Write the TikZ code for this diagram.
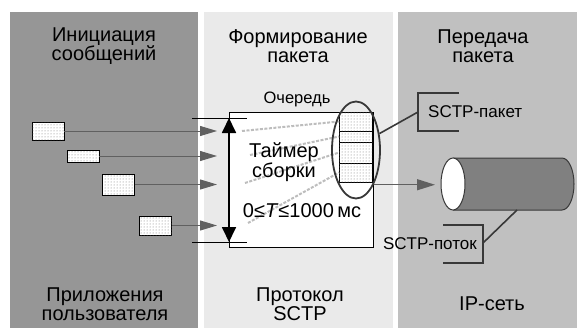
\documentclass[tikz,border=0pt]{standalone}
\usepackage{fontspec}
\setmainfont{Liberation Sans}
\usepackage{tikz}
\usepackage{xcolor}
\usetikzlibrary{
    positioning,
    calc,
    shapes.geometric,
    arrows.meta,
    patterns
}
\definecolor{PainelApp}{HTML}{969696}
\definecolor{PainelSctp}{HTML}{EAEAEA}
\definecolor{PainelRede}{HTML}{C0C0C0}
\definecolor{SetaCinza}{HTML}{606060}
\definecolor{FilaCinza}{HTML}{BDBDBD}
\definecolor{TracoEscuro}{HTML}{383838}
\definecolor{TuboCinza}{HTML}{808080}

\begin{document}
\begin{tikzpicture}[
        x=1pt, y=-1pt,
        heading/.style={
            font=\fontsize{20}{19.5}\selectfont,
            align=center
        },
        tagtext/.style={
            font=\fontsize{16.5}{18}\selectfont,
            inner sep=0pt
        },
        msgbox/.style={
            draw,
            line width=0.8pt,
            fill=white,
            postaction={pattern=dots, pattern color=black!55},
            minimum width=32pt,
            inner sep=0pt,
            outer sep=0pt
        },
        cellbox/.style={
            msgbox,
            line width=0.6pt,
            minimum width=33pt
        },
        msgarrow/.style={
            draw=SetaCinza,
            line width=1pt,
            -{Triangle[length=17pt, width=10pt]}
        },
        queueline/.style={
            draw=FilaCinza,
            line width=2pt,
            dash pattern=on 3pt off 1.5pt
        },
        darkline/.style={
            draw=TracoEscuro,
            line width=1.6pt
        }
    ]

    \useasboundingbox (0,0) rectangle (577,329);

    % tres faixas de fundo
    \fill[PainelApp] (10,12) rectangle (198,328);
    \fill[PainelSctp] (204,12) rectangle (393,328);
    \fill[PainelRede] (398,12) rectangle (577,328);

    \node[heading] (titleApp) at (104,46) {Инициация\\сообщений};
    \node[heading] (titleSctp) at (298,46) {Формирование\\пакета};
    \node[heading] (titleNet) at (483,46) {Передача\\пакета};

    \node[heading] (footApp) at (105,304) {Приложения\\пользователя};
    \node[heading] (footSctp) at (300,304) {Протокол\\SCTP};
    \node[heading] (footNet) at (492,304) {IP-сеть};

    % bloco do protocolo
    \node[
        draw,
        line width=0.8pt,
        fill=white,
        minimum width=144pt,
        minimum height=135pt,
        anchor=north west,
        inner sep=0pt
    ] (sctpbox) at (229,112) {};

    \coordinate (timerTop) at (229,118);
    \coordinate (timerBot) at (229,242);
    \draw[line width=0.8pt] (192,118) -- (247,118);
    \draw[line width=0.8pt] (192,242) -- (247,242);
    \draw[
        line width=1.8pt,
        {Triangle[length=15pt, width=14pt]}-{Triangle[length=15pt, width=14pt]}
    ] (timerTop) -- (timerBot);

    % mensagens
    \node[msgbox, minimum height=18pt] (msgA) at (48,131) {};
    \node[msgbox, minimum height=12pt] (msgB) at (83,156) {};
    \node[msgbox, minimum height=21pt] (msgC) at (118.5,184.5) {};
    \node[msgbox, minimum height=19pt] (msgD) at (155.5,225.5) {};

    \coordinate (arrowEnd) at (217,0);
    \foreach \m in {msgA,msgB,msgC,msgD}
        \draw[msgarrow] (\m.east) -- (\m.east -| arrowEnd);

    % fila
    \node[cellbox, minimum height=19pt, anchor=north west] (cellA) at (339,112) {};
    \node[cellbox, minimum height=11pt, below=0pt of cellA] (cellB) {};
    \node[cellbox, minimum height=21pt, below=0pt of cellB] (cellC) {};
    \node[cellbox, minimum height=19pt, below=0pt of cellC] (cellD) {};

    \coordinate (qA) at (242,131);
    \coordinate (qB) at (250,155);
    \coordinate (qC) at (245,183);
    \coordinate (qD) at (248,223);
    \draw[queueline] (qA) -- (cellA.west);
    \draw[queueline] (qB) -- (cellB.west);
    \draw[queueline] (qC) -- (cellC.west);
    \draw[queueline] (qD) -- (cellD.west);

    \node[tagtext] (queueName) at (297,99) {Очередь};
    \node[heading] (timerName) at (284,162) {Таймер\\сборки};
    \node[heading, inner sep=0pt] (timerRange) at (302,211)
        {0≤\textit{T}≤1000\,мс};

    \node[
        ellipse,
        draw=TracoEscuro,
        line width=1.8pt,
        minimum width=48pt,
        minimum height=97pt,
        inner sep=0pt
    ] (queuering) at (356,150) {};

    % tubo IP
    \coordinate (tubeFront) at (441,184);
    \coordinate (tubeBottom) at (517,210);
    \fill[TuboCinza] (453,158) -- (562,158)
        arc[start angle=-90, end angle=90, x radius=12, y radius=26]
        -- (453,210) -- cycle;
    \draw[TracoEscuro, line width=1pt] (453,158) -- (562,158)
        arc[start angle=-90, end angle=90, x radius=12, y radius=26]
        -- (453,210);
    \draw[TracoEscuro, line width=1pt, fill=white]
        (453,184) ellipse[x radius=12, y radius=26];

    \draw[
        draw=SetaCinza,
        line width=1.4pt,
        -{Triangle[length=18pt, width=11pt]},
        shorten >=6pt
    ] (queuering.-63) -- (queuering.-63 -| tubeFront);

    % chamadas
    \coordinate (pktMark) at (418,112);
    \draw[darkline] (459,93) -- (418,93) -- (418,131) -- (459,131);
    \draw[darkline] (queuering.35) -- (pktMark);
    \node[tagtext, font=\fontsize{17}{18}\selectfont, anchor=west] (pktName) at (428,112) {SCTP-пакет};

    \coordinate (flowMark) at (483,243);
    \draw[darkline] (443,225) -- (483,225) -- (483,263) -- (443,263);
    \draw[darkline] (tubeBottom) -- (flowMark);
    \node[tagtext, font=\fontsize{17}{18}\selectfont, anchor=east] (flowName) at (477,244) {SCTP-поток};

\end{tikzpicture}
\end{document}
